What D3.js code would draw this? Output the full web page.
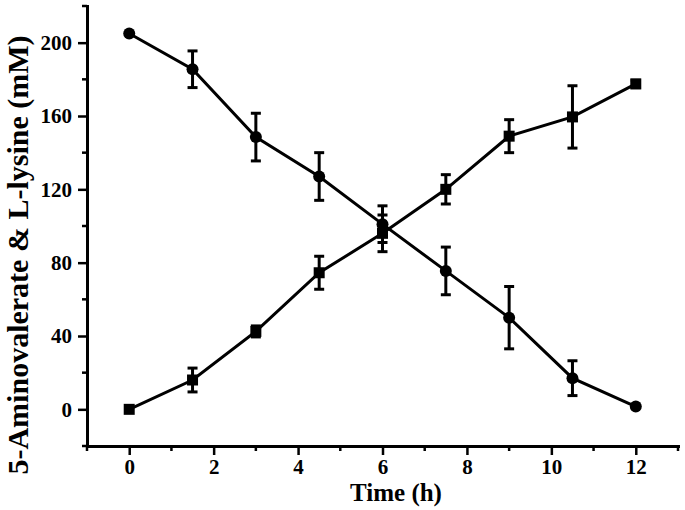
<!DOCTYPE html>
<html>
<head>
<meta charset="utf-8">
<script src="https://cdn.jsdelivr.net/npm/d3@7"></script>
<style>
  html, body { margin: 0; padding: 0; background: #fff; }
  svg { display: block; }
  text { font-family: "Liberation Serif", "Times New Roman", serif; font-weight: bold; fill: #000; }
</style>
</head>
<body>
<svg id="chart" width="685" height="510"></svg>
<script>
// ---- data ----
const times = [0, 1.5, 3, 4.5, 6, 7.5, 9, 10.5, 12];
const lysine = [205, 185.5, 148.5, 127, 101, 75.5, 50, 17, 1.5];
const lysineErr = [0, 10, 13, 13, 10, 13, 17, 9.5, 0];
const aminovalerate = [0, 16, 42.5, 74.5, 96, 120, 149, 159.5, 177.5];
const aminovalerateErr = [0, 6.5, 3, 9, 10, 8, 9, 17, 2];
const xMajorTicks = [0, 2, 4, 6, 8, 10, 12];
const xMinorTicks = [-1, 1, 3, 5, 7, 9, 11, 13];
const yMajorTicks = [0, 40, 80, 120, 160, 200];
const yMinorTicks = [-20, 20, 60, 100, 140, 180, 220];
const xTitle = "Time (h)";
const yTitle = "5-Aminovalerate & L-lysine (mM)";

// ---- layout ----
const svg = d3.select("#chart");
const mLeft = 87, mRight = 678, mTop = 6, mBottom = 446;
const x = d3.scaleLinear().domain([-1, 13]).range([mLeft, mRight]);
const y = d3.scaleLinear().domain([-20, 220]).range([mBottom, mTop]);
const serif = '"Liberation Serif", "Times New Roman", serif';

// axes
const xAxis = d3.axisBottom(x).tickValues(xMajorTicks).tickSize(9).tickSizeOuter(0).tickPadding(4).tickFormat(d3.format("d"));
const yAxis = d3.axisLeft(y).tickValues(yMajorTicks).tickSize(9).tickSizeOuter(0).tickPadding(6).tickFormat(d3.format("d"));

const gx = svg.append("g").attr("transform", `translate(0,${mBottom})`).call(xAxis);
const gy = svg.append("g").attr("transform", `translate(${mLeft},0)`).call(yAxis);

[gx, gy].forEach(g => {
  g.attr("font-family", serif).attr("font-size", 21).attr("font-weight", "bold");
  g.select(".domain").attr("stroke", "#000").attr("stroke-width", 3).attr("stroke-linecap", "square");
  g.selectAll(".tick line").attr("stroke", "#000").attr("stroke-width", 2.5);
  g.selectAll(".tick text").attr("font-family", serif).attr("font-weight", "bold").attr("font-size", 21).attr("fill", "#000");
});

// minor ticks
svg.append("g").selectAll("line").data(xMinorTicks).join("line")
  .attr("x1", d => x(d)).attr("x2", d => x(d))
  .attr("y1", mBottom).attr("y2", mBottom + 5)
  .attr("stroke", "#000").attr("stroke-width", 2.5);
svg.append("g").selectAll("line").data(yMinorTicks).join("line")
  .attr("y1", d => y(d)).attr("y2", d => y(d))
  .attr("x1", mLeft).attr("x2", mLeft - 5)
  .attr("stroke", "#000").attr("stroke-width", 2.5);

// titles
svg.append("text").attr("x", 396).attr("y", 501).attr("text-anchor", "middle")
  .attr("font-family", serif).attr("font-weight", "bold").attr("font-size", 25).text(xTitle);
const yt = svg.append("text").attr("transform", "translate(28,255) rotate(-90)").attr("text-anchor", "middle")
  .attr("font-family", serif).attr("font-weight", "bold").attr("font-size", 26).text(yTitle);
const len = yt.node().getComputedTextLength();
if (len > 0) yt.attr("font-size", Math.min(30, 26 * 452 / len));

// series
function drawSeries(vals, errs, shape) {
  const pts = times.map((t, i) => ({ t, v: vals[i], e: errs[i] }));
  const line = d3.line().x(d => x(d.t)).y(d => y(d.v));
  const g = svg.append("g");
  g.append("path").datum(pts).attr("d", line).attr("fill", "none")
    .attr("stroke", "#000").attr("stroke-width", 3);
  const eb = g.append("g").selectAll("g").data(pts.filter(d => d.e > 0)).join("g");
  eb.append("line").attr("x1", d => x(d.t)).attr("x2", d => x(d.t))
    .attr("y1", d => y(d.v + d.e)).attr("y2", d => y(d.v - d.e))
    .attr("stroke", "#000").attr("stroke-width", 3);
  [1, -1].forEach(s => {
    eb.append("line").attr("x1", d => x(d.t) - 5).attr("x2", d => x(d.t) + 5)
      .attr("y1", d => y(d.v + s * d.e)).attr("y2", d => y(d.v + s * d.e))
      .attr("stroke", "#000").attr("stroke-width", 3);
  });
  if (shape === "circle") {
    g.append("g").selectAll("circle").data(pts).join("circle")
      .attr("cx", d => x(d.t)).attr("cy", d => y(d.v)).attr("r", 6).attr("fill", "#000");
  } else {
    g.append("g").selectAll("rect").data(pts).join("rect")
      .attr("x", d => x(d.t) - 5.5).attr("y", d => y(d.v) - 5.5)
      .attr("width", 11).attr("height", 11).attr("fill", "#000");
  }
}
drawSeries(aminovalerate, aminovalerateErr, "square");
drawSeries(lysine, lysineErr, "circle");
</script>
</body>
</html>
